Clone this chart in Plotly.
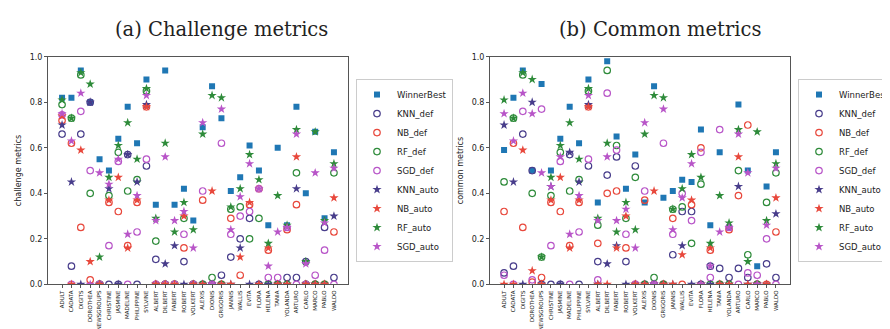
import plotly.graph_objects as go

datasets = ["ADULT", "CADATA", "DIGITS", "DOROTHEA", "NEWSGROUPS", "CHRISTINE", "JASMINE",
            "MADELINE", "PHILIPPINE", "SYLVINE", "ALBERT", "DILBERT", "FABERT", "ROBERT",
            "VOLKERT", "ALEXIS", "DIONIS", "GRIGORIS", "JANNIS", "WALLIS", "EVITA", "FLORA",
            "HELENA", "TANIA", "YOLANDA", "ARTURO", "CARLO", "MARCO", "PABLO", "WALDO"]

series_names = ["WinnerBest", "KNN_def", "NB_def", "RF_def", "SGD_def",
                "KNN_auto", "NB_auto", "RF_auto", "SGD_auto"]

# (a) challenge metrics
ch_winner = [0.82, 0.82, 0.94, 0.80, 0.55, 0.50, 0.64, 0.78, 0.62, 0.90, 0.35, 0.94, 0.35, 0.42, 0.28,
             0.69, 0.87, 0.73, 0.41, 0.47, 0.61, 0.50, 0.26, 0.60, 0.26, 0.78, 0.40, 0.67, 0.29, 0.58]
ch_knn_def = [0.66, 0.08, 0.66, 0.80, 0.0, 0.0, 0.0, 0.57, 0.0, 0.52, 0.11, 0.0, 0.0, 0.10, 0.0,
              0.0, 0.0, 0.04, 0.12, 0.20, 0.29, 0.0, 0.0, 0.0, 0.03, 0.03, 0.10, 0.0, 0.25, 0.03]
ch_nb_def = [0.72, 0.62, 0.25, 0.02, 0.0, 0.36, 0.32, 0.17, 0.36, 0.78, 0.0, 0.0, 0.0, 0.16, 0.0,
             0.37, 0.0, 0.0, 0.29, 0.04, 0.35, 0.42, 0.15, 0.0, 0.24, 0.35, 0.0, 0.0, 0.0, 0.23]
ch_rf_def = [0.79, 0.73, 0.92, 0.40, 0.0, 0.39, 0.58, 0.41, 0.46, 0.85, 0.19, 0.0, 0.0, 0.29, 0.0,
             0.0, 0.03, 0.0, 0.33, 0.34, 0.20, 0.29, 0.0, 0.0, 0.0, 0.49, 0.0, 0.0, 0.0, 0.49]
ch_sgd_def = [0.745, 0.0, 0.76, 0.50, 0.0, 0.17, 0.54, 0.0, 0.23, 0.55, 0.0, 0.0, 0.0, 0.22, 0.0,
              0.41, 0.0, 0.62, 0.22, 0.30, 0.32, 0.42, 0.03, 0.03, 0.25, 0.0, 0.0, 0.04, 0.15, 0.0]
ch_knn_auto = [0.70, 0.45, 0.0, 0.80, 0.0, 0.42, 0.0, 0.57, 0.45, 0.79, 0.0, 0.09, 0.17, 0.0, 0.0,
               0.0, 0.0, 0.0, 0.0, 0.16, 0.0, 0.0, 0.0, 0.0, 0.0, 0.42, 0.0, 0.0, 0.0, 0.30]
ch_nb_auto = [0.74, 0.0, 0.59, 0.10, 0.0, 0.37, 0.47, 0.16, 0.37, 0.78, 0.0, 0.0, 0.0, 0.30, 0.0,
              0.0, 0.41, 0.0, 0.0, 0.12, 0.36, 0.0, 0.16, 0.0, 0.0, 0.56, 0.0, 0.0, 0.0, 0.38]
ch_rf_auto = [0.81, 0.73, 0.93, 0.88, 0.12, 0.47, 0.61, 0.71, 0.55, 0.86, 0.29, 0.62, 0.23, 0.36, 0.24,
              0.66, 0.83, 0.82, 0.34, 0.42, 0.57, 0.46, 0.18, 0.39, 0.26, 0.68, 0.10, 0.67, 0.28, 0.53]
ch_sgd_auto = [0.75, 0.63, 0.84, 0.0, 0.49, 0.44, 0.55, 0.22, 0.39, 0.83, 0.28, 0.56, 0.28, 0.32, 0.16,
               0.71, 0.0, 0.77, 0.24, 0.385, 0.53, 0.42, 0.08, 0.23, 0.25, 0.66, 0.09, 0.49, 0.27, 0.51]

# (b) common metrics
co_winner = [0.59, 0.82, 0.94, 0.50, 0.88, 0.50, 0.64, 0.78, 0.62, 0.90, 0.36, 0.98, 0.65, 0.42, 0.57,
             0.36, 0.87, 0.38, 0.41, 0.46, 0.45, 0.68, 0.26, 0.58, 0.25, 0.79, 0.50, 0.08, 0.43, 0.58]
co_knn_def = [0.05, 0.08, 0.66, 0.50, 0.0, 0.0, 0.0, 0.57, 0.0, 0.52, 0.10, 0.48, 0.56, 0.10, 0.52,
              0.0, 0.0, 0.0, 0.13, 0.32, 0.32, 0.0, 0.08, 0.07, 0.03, 0.07, 0.03, 0.0, 0.09, 0.03]
co_nb_def = [0.32, 0.62, 0.25, 0.01, 0.03, 0.36, 0.32, 0.17, 0.36, 0.78, 0.18, 0.40, 0.41, 0.16, 0.0,
             0.37, 0.0, 0.0, 0.29, 0.0, 0.35, 0.60, 0.15, 0.0, 0.24, 0.39, 0.70, 0.0, 0.0, 0.23]
co_rf_def = [0.45, 0.73, 0.92, 0.40, 0.12, 0.39, 0.58, 0.41, 0.46, 0.85, 0.26, 0.94, 0.61, 0.29, 0.47,
             0.0, 0.03, 0.0, 0.33, 0.34, 0.18, 0.44, 0.0, 0.0, 0.0, 0.50, 0.13, 0.0, 0.36, 0.49]
co_sgd_def = [0.04, 0.0, 0.76, 0.02, 0.77, 0.17, 0.54, 0.0, 0.23, 0.55, 0.02, 0.84, 0.59, 0.22, 0.0,
              0.41, 0.0, 0.62, 0.22, 0.40, 0.28, 0.58, 0.03, 0.68, 0.25, 0.0, 0.05, 0.04, 0.20, 0.0]
co_knn_auto = [0.70, 0.45, 0.0, 0.80, 0.0, 0.43, 0.0, 0.58, 0.45, 0.79, 0.0, 0.09, 0.17, 0.0, 0.0,
               0.0, 0.0, 0.0, 0.0, 0.17, 0.0, 0.0, 0.0, 0.0, 0.0, 0.43, 0.0, 0.0, 0.0, 0.31]
co_nb_auto = [0.0, 0.0, 0.59, 0.06, 0.0, 0.37, 0.47, 0.16, 0.37, 0.78, 0.0, 0.0, 0.16, 0.30, 0.0,
              0.0, 0.41, 0.0, 0.0, 0.13, 0.37, 0.0, 0.16, 0.0, 0.0, 0.56, 0.0, 0.0, 0.0, 0.38]
co_rf_auto = [0.81, 0.73, 0.93, 0.90, 0.12, 0.47, 0.61, 0.71, 0.55, 0.86, 0.29, 0.62, 0.23, 0.36, 0.24,
              0.66, 0.83, 0.82, 0.33, 0.42, 0.57, 0.47, 0.18, 0.39, 0.27, 0.68, 0.10, 0.67, 0.28, 0.53]
co_sgd_auto = [0.75, 0.63, 0.84, 0.75, 0.49, 0.43, 0.56, 0.22, 0.39, 0.83, 0.28, 0.56, 0.28, 0.33, 0.16,
               0.71, 0.0, 0.77, 0.24, 0.38, 0.53, 0.0, 0.08, 0.23, 0.25, 0.66, 0.49, 0.0, 0.26, 0.51]

challenge = [ch_winner, ch_knn_def, ch_nb_def, ch_rf_def, ch_sgd_def,
             ch_knn_auto, ch_nb_auto, ch_rf_auto, ch_sgd_auto]
common = [co_winner, co_knn_def, co_nb_def, co_rf_def, co_sgd_def,
          co_knn_auto, co_nb_auto, co_rf_auto, co_sgd_auto]

colors = ["#1f77b4", "#483d8b", "#e8483c", "#2e8b3a", "#b855c8",
          "#483d8b", "#e8483c", "#2e8b3a", "#b855c8"]
symbols = ["square", "circle-open", "circle-open", "circle-open", "circle-open",
           "star", "star", "star", "star"]
sizes = [6, 6.5, 6.5, 6.5, 6.5, 7, 7, 7, 7]

fig = go.Figure()

for k, name in enumerate(series_names):
    mk = dict(symbol=symbols[k], color=colors[k], size=sizes[k],
              line=dict(width=1.2 if "open" in symbols[k] else 0, color=colors[k]))
    fig.add_trace(go.Scatter(x=datasets, y=challenge[k], mode="markers", name=name,
                             marker=mk, xaxis="x", yaxis="y", legend="legend"))
    fig.add_trace(go.Scatter(x=datasets, y=common[k], mode="markers", name=name,
                             marker=mk, xaxis="x2", yaxis="y2", legend="legend2"))

axis_font = dict(family="DejaVu Sans", size=8, color="#222")

xcommon = dict(type="category", categoryorder="array", categoryarray=datasets,
               range=[-1.5, 30.5], tickangle=-90, tickfont=dict(family="DejaVu Sans", size=5.5, color="#222"),
               showline=True, mirror=True, linecolor="#555", linewidth=1,
               ticks="outside", ticklen=3, tickcolor="#555", showgrid=False, zeroline=False)
ycommon = dict(range=[0, 1.0], tickvals=[0, 0.2, 0.4, 0.6, 0.8, 1.0], tickformat=".1f",
               tickfont=axis_font, showline=True, mirror=True, linecolor="#555", linewidth=1,
               ticks="outside", ticklen=3, tickcolor="#555", showgrid=False, zeroline=False)

legend_font = dict(family="DejaVu Sans", size=8.5, color="#222")

fig.update_layout(
    width=890, height=329,
    margin=dict(l=0, r=0, t=0, b=0),
    paper_bgcolor="white", plot_bgcolor="white",
    xaxis=dict(domain=[40 / 890, 340 / 890], anchor="y", **xcommon),
    yaxis=dict(domain=[1 - 280 / 329, 1 - 46 / 329], anchor="x",
               title=dict(text="challenge metrics", font=axis_font, standoff=6), **ycommon),
    xaxis2=dict(domain=[482 / 890, 782 / 890], anchor="y2", **xcommon),
    yaxis2=dict(domain=[1 - 280 / 329, 1 - 46 / 329], anchor="x2",
                title=dict(text="common metrics", font=axis_font, standoff=6), **ycommon),
    legend=dict(x=348 / 890, y=1 - 163 / 329, xanchor="left", yanchor="middle",
                font=legend_font, bordercolor="#ccc", borderwidth=1, bgcolor="white",
                tracegroupgap=0),
    legend2=dict(x=790 / 890, y=1 - 163 / 329, xanchor="left", yanchor="middle",
                 font=legend_font, bordercolor="#ccc", borderwidth=1, bgcolor="white",
                 tracegroupgap=0),
    annotations=[
        dict(text="(a) Challenge metrics", x=213 / 890, y=1 - 18 / 329, xref="paper", yref="paper",
             xanchor="center", yanchor="middle", showarrow=False,
             font=dict(family="DejaVu Serif", size=19.5, color="#222")),
        dict(text="(b) Common metrics", x=652 / 890, y=1 - 18 / 329, xref="paper", yref="paper",
             xanchor="center", yanchor="middle", showarrow=False,
             font=dict(family="DejaVu Serif", size=19.5, color="#222")),
    ],
)

fig.write_html("out.html")
